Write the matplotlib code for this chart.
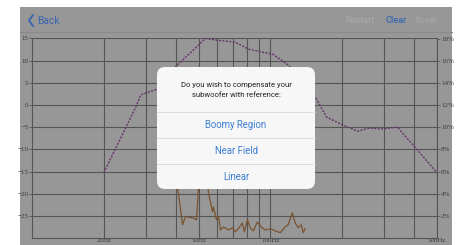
import numpy as np
import matplotlib.pyplot as plt
from matplotlib.patches import Rectangle, FancyBboxPatch
from matplotlib.ticker import FixedLocator, FuncFormatter

# Curva de referencia (punteada) : frecuencia Hz, nivel dB
ref_freq = [20, 27.5, 28.6, 33.6, 40, 53.4, 60, 71, 81, 91, 102, 119,
            155, 172, 201, 232, 261, 295, 341, 404, 500]
ref_db = [-15.3, 0, 2.3, 3.6, 8.6, 15, 14.6, 14.2, 12.6, 12, 11.5, 9,
          1.6, -2.7, -4.5, -5.9, -5.2, -5.4, -5, -9.5, -15.3]

# Medicion del subwoofer (linea continua)
meas_freq = [40.3, 40.8, 42.8, 44.1, 47.6, 49.0, 49.9, 50.6, 54.2, 55.0, 57.2,
             57.7, 59.4, 60.6, 61.8, 63.6, 66.7, 69.3, 71.3, 73.4, 76.3,
             77.8, 80.1, 82.4, 84.9, 88.1, 91.6, 95.2, 100, 104.9, 110.1,
             114.3, 118.8, 123.6, 127.1, 130.9, 134.7, 137.3, 139.9]
meas_db = [-16.5, -18.5, -27.0, -25.2, -25.5, -25.9, -19.1, -16.5, -16.5, -19.8, -24.1,
           -23.0, -25.9, -25.2, -28.2, -27.5, -28.2, -27.7, -28.6, -27.9, -26.6,
           -28.6, -25.9, -27.7, -28.4, -26.4, -27.5, -28.2, -27.9, -28.4, -28.8,
           -27.7, -27.0, -24.3, -26.6, -27.7, -27.0, -28.8, -27.9]

grid_freq = [20, 30, 40, 50, 60, 70, 80, 90, 100, 200, 300, 400, 500]
freq_labels = {20: '20Hz', 50: '50Hz', 100: '100Hz', 500: '500Hz'}
db_ticks = [-25, -20, -15, -10, -5, 0, 5, 10, 15]
pct_ticks = [2, 4, 6, 8, 10, 12, 14, 16, 18]
options = ['Boomy Region', 'Near Field', 'Linear']

W, H = 461, 245
gray = '#979797'
gridc = '#555555'
labc = '#3a3a3a'
blue = '#3a66b0'

fig = plt.figure(figsize=(W / 100, H / 100), dpi=100)
fig.patch.set_facecolor('white')

# fondo de la pantalla (coordenadas en pixeles)
bg = fig.add_axes([0, 0, 1, 1], zorder=0)
bg.set_xlim(0, W)
bg.set_ylim(H, 0)
bg.axis('off')
bg.add_patch(Rectangle((20, 7), 432, 240, facecolor=gray, edgecolor='none'))
bg.plot([20, 452], [32.5, 32.5], color='#8a8a8a', lw=0.8)
bg.plot([33, 29, 33], [15, 20.5, 26], color=blue, lw=1.4, solid_capstyle='round')
bg.text(37, 20.5, 'Back', color=blue, fontsize=7.3, family='Roboto', va='center')
bg.text(345, 20.5, 'Restart', color='#a9a9a9', fontsize=6.6, family='Roboto', va='center')
bg.text(385, 20.5, 'Clear', color=blue, fontsize=6.6, family='Roboto', va='center',
        fontweight='medium')
bg.text(415, 20.5, 'Xover', color='#a9a9a9', fontsize=6.6, family='Roboto', va='center')

# grafica
x0, x1, y0, y1 = 32, 437, 38.5, 238
ax = fig.add_axes([x0 / W, (H - y1) / H, (x1 - x0) / W, (y1 - y0) / H], zorder=1)
ax.set_facecolor('none')
ax.set_xscale('log')
ax.set_xlim(10, 500)
ax.set_ylim(-30, 15)
ax.xaxis.set_major_locator(FixedLocator(grid_freq))
ax.xaxis.set_minor_locator(FixedLocator([]))
ax.xaxis.set_major_formatter(FuncFormatter(lambda v, p: freq_labels.get(int(round(v)), '')))
ax.set_yticks(db_ticks)
ax.grid(True, color=gridc, lw=0.8)
for s in ax.spines.values():
    s.set_color(gridc)
    s.set_linewidth(0.8)
ax.spines['top'].set_visible(False)
ax.tick_params(axis='x', length=0, pad=0.2, labelsize=5, labelcolor=labc)
ax.tick_params(axis='y', length=2, width=0.6, color=gridc, pad=0.5, labelsize=5,
               labelcolor=labc)
for t in ax.get_xticklabels() + ax.get_yticklabels():
    t.set_family('Liberation Serif')

ax.plot(ref_freq, ref_db, color='#65356a', lw=1.0, ls=(0, (1.5, 1)))
ax.plot(meas_freq, meas_db, color='#7a5330', lw=0.9)

ax2 = ax.twinx()
ax2.set_ylim(0, 18)
ax2.set_yticks(pct_ticks)
ax2.yaxis.set_major_formatter(FuncFormatter(lambda v, p: '%d%%' % v))
for s in ax2.spines.values():
    s.set_visible(False)
ax2.tick_params(axis='y', length=2.5, width=0.6, color=gridc, pad=0.5, labelsize=5,
                labelcolor=labc)
for t in ax2.get_yticklabels():
    t.set_family('Liberation Serif')

# dialogo
dlg = fig.add_axes([0, 0, 1, 1], zorder=2)
dlg.set_xlim(0, W)
dlg.set_ylim(H, 0)
dlg.axis('off')
dlg.add_patch(FancyBboxPatch((157, 67), 158, 122, boxstyle='round,pad=0,rounding_size=8',
                             facecolor='#f7f7f7', edgecolor='none'))
dlg.text(236, 85, 'Do you wish to compensate your', ha='center', va='center',
         fontsize=5.5, family='Roboto', color='#222222')
dlg.text(236, 95, 'subwoofer with reference:', ha='center', va='center',
         fontsize=5.5, family='Roboto', color='#222222')
sep_y = [112, 138, 164]
for i, name in enumerate(options):
    dlg.plot([157, 315], [sep_y[i], sep_y[i]], color='#d9d9d9', lw=0.6)
    dlg.text(236, sep_y[i] + 13, name, ha='center', va='center', fontsize=6.9,
             family='Roboto', color='#3b7fd0')

fig.savefig('out.png', dpi=100)
